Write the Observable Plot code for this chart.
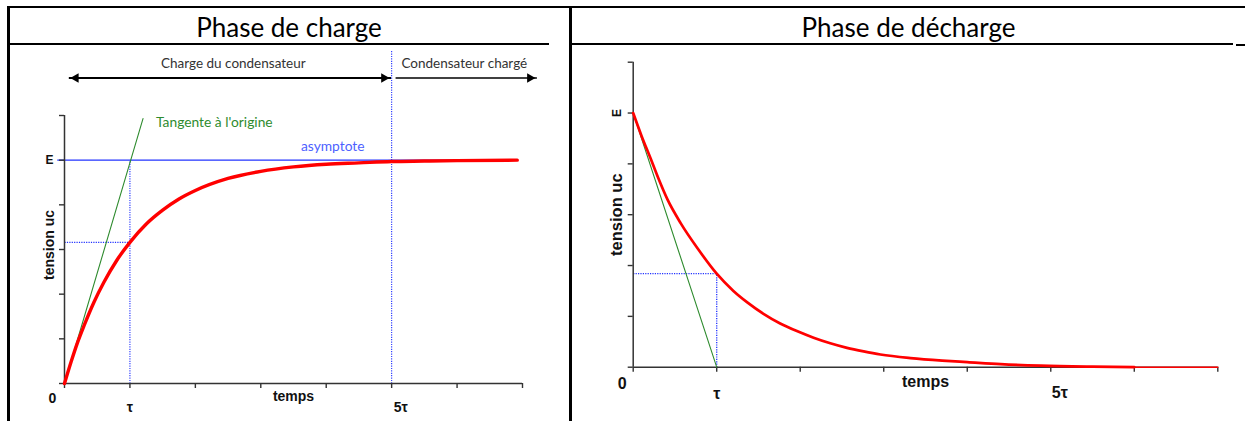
<!DOCTYPE html>
<html>
<head>
<meta charset="utf-8">
<script src="https://cdn.jsdelivr.net/npm/d3@7"></script>
<script src="https://cdn.jsdelivr.net/npm/@observablehq/plot@0.6"></script>
<style>
  body { margin: 0; background: #fff; }
  #page { position: relative; width: 1245px; height: 421px; overflow: hidden; background: #fff; }
  .chart { position: absolute; top: 0; }
  .b { position: absolute; background: #000; }
  .hd { position: absolute; top: 10px; height: 35px; line-height: 35px; text-align: center;
        font-family: Lato, "Open Sans", sans-serif; font-size: 26px; color: #000; white-space: nowrap; }
</style>
</head>
<body>
<div id="page">
  <div class="hd" style="left:9px;width:560px">Phase de charge</div>
  <div class="hd" style="left:571px;width:675px">Phase de décharge</div>
  <div id="left" class="chart" style="left:0px"></div>
  <div id="right" class="chart" style="left:570px"></div>
  <div class="b" style="left:7px;top:6px;width:1238px;height:2px"></div>
  <div class="b" style="left:7px;top:43px;width:542px;height:2px"></div>
  <div class="b" style="left:570px;top:43px;width:663px;height:2px"></div>
  <div class="b" style="left:1236px;top:44px;width:9px;height:2px"></div>
  <div class="b" style="left:7px;top:6px;width:2.5px;height:415px"></div>
  <div class="b" style="left:568.5px;top:6px;width:3px;height:415px"></div>
</div>
<script>
// ---- data (time in units of τ, voltage in axis units, E = 5) ----
const xTicks = [0, 1, 2, 3, 4, 5, 6, 7];
const yTicks = [0, 1, 2, 3, 4, 5, 6];
const E = 5;

// charge: u_C(t)
const chargeT = [0, 0.1, 0.2, 0.3, 0.45, 0.6, 0.8, 1.0, 1.25, 1.5, 1.75, 2.0, 2.5, 3.0, 3.5, 4.0, 4.5, 5.0, 5.5, 6.0, 6.92];
const chargeU = [0, 0.48, 0.92, 1.3, 1.82, 2.26, 2.76, 3.16, 3.57, 3.88, 4.13, 4.32, 4.59, 4.75, 4.85, 4.91, 4.94, 4.97, 4.98, 4.99, 5.0];
const chargeTangentT = [0, 1.2];
const chargeTangentU = [0, 5.93];
const chargeTauU = 3.16;

// décharge: u_C(t)
const dechargeT = [0, 0.1, 0.21, 0.3, 0.41, 0.57, 0.77, 1.0, 1.2, 1.37, 1.56, 1.76, 1.96, 2.16, 2.36, 2.56, 2.76, 2.96, 3.32, 3.7, 4.0, 4.4, 4.88, 5.5, 6.0];
const dechargeU = [5.0, 4.55, 4.1, 3.72, 3.3, 2.83, 2.34, 1.84, 1.5, 1.27, 1.05, 0.86, 0.71, 0.58, 0.47, 0.38, 0.31, 0.25, 0.18, 0.13, 0.1, 0.06, 0.03, 0.01, 0];
const dechargeTailT = [6.0, 7.0];
const dechargeTailU = [0, 0];
const dechargeTangentT = [0, 1];
const dechargeTangentU = [5, 0];
const dechargeTauU = 1.84;

// ---- styles ----
const axisFont = "'Liberation Sans', Arial, sans-serif";
const noteFont = "'Comic Sans MS', Lato, sans-serif";
const blue = "#2233ff";
const green = "#2e8b2e";
const red = "#ff0000";
const axisColor = "#333";
const dotted = {stroke: blue, strokeWidth: 1.1, strokeDasharray: "1.2,1.2"};
const L = {x1: "x1", y1: "y1", x2: "x2", y2: "y2"};

const rows = (T, U) => T.map((t, i) => ({t, u: U[i]}));

function axisMarks() {
  return [
    Plot.ruleY([0], {stroke: axisColor, strokeWidth: 1.5}),
    Plot.ruleX([0], {stroke: axisColor, strokeWidth: 1.5}),
    Plot.axisX({ticks: xTicks, tickSize: 5, tickFormat: () => "", label: null, stroke: axisColor, strokeWidth: 1.4}),
    Plot.axisY({ticks: yTicks, tickSize: 5, tickFormat: () => "", label: null, stroke: axisColor, strokeWidth: 1.4})
  ];
}

// ---- charge ----
const left = Plot.plot({
  width: 570, height: 421,
  marginLeft: 64, marginRight: 48, marginTop: 115, marginBottom: 38,
  x: {domain: [0, 7], axis: null},
  y: {domain: [0, 6], axis: null},
  style: {background: "transparent", overflow: "visible"},
  marks: [
    Plot.link([{x1: 5, y1: 0, x2: 5, y2: 7.45}], {...L, ...dotted}),
    Plot.link([{x1: 1, y1: 0, x2: 1, y2: E}, {x1: 0, y1: chargeTauU, x2: 1, y2: chargeTauU}], {...L, ...dotted}),
    Plot.link([{x1: -0.11, y1: E, x2: 6.93, y2: E}], {...L, stroke: blue, strokeWidth: 1.3}),
    ...axisMarks(),
    Plot.line(rows(chargeTangentT, chargeTangentU), {x: "t", y: "u", stroke: green, strokeWidth: 1.1}),
    Plot.line(rows(chargeT, chargeU), {x: "t", y: "u", stroke: red, strokeWidth: 3.4, curve: "monotone-x"}),
    // annotations
    Plot.text([{x: 2.29, y: 5.84, s: "Tangente à l'origine"}], {x: "x", y: "y", text: "s", fill: green, fontSize: 13.8, fontFamily: noteFont}),
    Plot.text([{x: 4.1, y: 5.3, s: "asymptote"}], {x: "x", y: "y", text: "s", fill: "#4d5fff", fontSize: 13.8, fontFamily: noteFont}),
    Plot.text([{x: 2.58, y: 7.16, s: "Charge du condensateur"}, {x: 6.11, y: 7.16, s: "Condensateur chargé"}],
      {x: "x", y: "y", text: "s", fill: "#333", fontSize: 13.5, fontFamily: noteFont}),
    Plot.link([{x1: 0.066, y1: 6.84, x2: 4.99, y2: 6.84}], {...L, stroke: "#000", strokeWidth: 2}),
    Plot.link([{x1: 5.06, y1: 6.84, x2: 7.22, y2: 6.84}], {...L, stroke: "#000", strokeWidth: 1.3}),
    Plot.dot([{x: 0.066, y: 6.84}], {x: "x", y: "y", symbol: "triangle2", rotate: -90, r: 4.6, fill: "#000", dx: 7}),
    Plot.dot([{x: 4.99, y: 6.84}, {x: 7.22, y: 6.84}], {x: "x", y: "y", symbol: "triangle2", rotate: 90, r: 4.6, fill: "#000", dx: -7}),
    // axis labels
    Plot.text([{x: 0, y: 0, s: "0"}], {x: "x", y: "y", text: "s", dx: -12, dy: 15, fontSize: 14, fontWeight: "bold", fontFamily: axisFont, fill: "#111"}),
    Plot.text([{x: 1, y: 0, s: "τ"}], {x: "x", y: "y", text: "s", dy: 24, fontSize: 14, fontWeight: "bold", fontFamily: axisFont, fill: "#111"}),
    Plot.text([{x: 5, y: 0, s: "5τ"}], {x: "x", y: "y", text: "s", dx: 9, dy: 24, fontSize: 14, fontWeight: "bold", fontFamily: axisFont, fill: "#111"}),
    Plot.text([{x: 3.5, y: 0, s: "temps"}], {x: "x", y: "y", text: "s", dy: 13, fontSize: 14, fontWeight: "bold", fontFamily: axisFont, fill: "#111"}),
    Plot.text([{x: 0, y: E, s: "E"}], {x: "x", y: "y", text: "s", dx: -15, fontSize: 12, fontWeight: "bold", fontFamily: axisFont, fill: "#111"}),
    Plot.text([{x: 0, y: 3.1, s: "tension uc"}], {x: "x", y: "y", text: "s", dx: -15, rotate: -90, fontSize: 14, fontWeight: "bold", fontFamily: axisFont, fill: "#111"})
  ]
});
document.getElementById("left").appendChild(left);

// ---- décharge ----
const right = Plot.plot({
  width: 675, height: 421,
  marginLeft: 62.7, marginRight: 27.7, marginTop: 61.7, marginBottom: 54.3,
  x: {domain: [0, 7], axis: null},
  y: {domain: [0, 6], axis: null},
  style: {background: "transparent", overflow: "visible"},
  marks: [
    Plot.link([{x1: 1, y1: 0, x2: 1, y2: dechargeTauU}, {x1: 0, y1: dechargeTauU, x2: 1, y2: dechargeTauU}], {...L, ...dotted, strokeWidth: 1.3}),
    ...axisMarks(),
    Plot.line(rows(dechargeTangentT, dechargeTangentU), {x: "t", y: "u", stroke: green, strokeWidth: 1.1}),
    Plot.line(rows(dechargeTailT, dechargeTailU), {x: "t", y: "u", stroke: red, strokeWidth: 1.5}),
    Plot.line(rows(dechargeT, dechargeU), {x: "t", y: "u", stroke: red, strokeWidth: 2.7, curve: "monotone-x"}),
    Plot.text([{x: 0, y: 0, s: "0"}], {x: "x", y: "y", text: "s", dx: -11, dy: 17, fontSize: 16, fontWeight: "bold", fontFamily: axisFont, fill: "#111"}),
    Plot.text([{x: 1, y: 0, s: "τ"}], {x: "x", y: "y", text: "s", dy: 27, fontSize: 16, fontWeight: "bold", fontFamily: axisFont, fill: "#111"}),
    Plot.text([{x: 5, y: 0, s: "5τ"}], {x: "x", y: "y", text: "s", dx: 9, dy: 26, fontSize: 16, fontWeight: "bold", fontFamily: axisFont, fill: "#111"}),
    Plot.text([{x: 3.5, y: 0, s: "temps"}], {x: "x", y: "y", text: "s", dy: 15, fontSize: 16, fontWeight: "bold", fontFamily: axisFont, fill: "#111"}),
    Plot.text([{x: 0, y: E, s: "E"}], {x: "x", y: "y", text: "s", dx: -16, rotate: -90, fontSize: 12, fontWeight: "bold", fontFamily: axisFont, fill: "#111"}),
    Plot.text([{x: 0, y: 3.0, s: "tension uc"}], {x: "x", y: "y", text: "s", dx: -16, rotate: -90, fontSize: 16.5, fontWeight: "bold", fontFamily: axisFont, fill: "#111"})
  ]
});
document.getElementById("right").appendChild(right);
</script>
</body>
</html>
